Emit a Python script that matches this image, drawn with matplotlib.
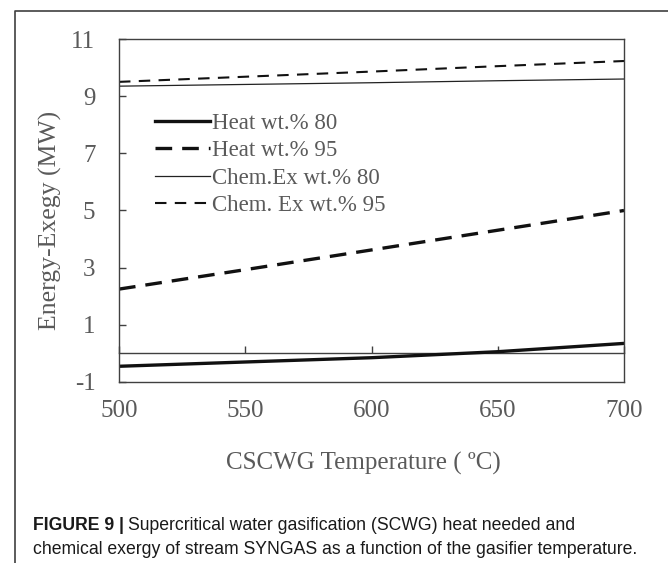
import matplotlib
matplotlib.use("Agg")
import matplotlib.pyplot as plt
from matplotlib.lines import Line2D

# temperatures (C) and the four series (MW)
temps = [500, 550, 600, 650, 700]
heat_80 = [-0.45, -0.30, -0.15, 0.06, 0.35]
heat_95 = [2.25, 2.93, 3.62, 4.31, 5.00]
chem_80 = [9.35, 9.41, 9.47, 9.54, 9.60]
chem_95 = [9.50, 9.68, 9.86, 10.05, 10.23]

x_ticks = [500, 550, 600, 650, 700]
y_ticks = [-1, 1, 3, 5, 7, 9, 11]

W, H = 668, 563
TXT = "#5a5a5a"
EDGE = "#404040"
SERIF = ["Liberation Serif", "DejaVu Serif"]
SANS = ["Liberation Sans", "DejaVu Sans"]

plt.rcParams["axes.unicode_minus"] = False

fig = plt.figure(figsize=(W / 100, H / 100), dpi=100)
ax = fig.add_axes([119 / W, 1 - 382 / H, (624 - 119) / W, (382 - 39) / H])

ax.plot(temps, heat_80, color="#111111", lw=2.4, label="Heat wt.% 80")
ax.plot(temps, heat_95, color="#111111", lw=2.4, ls=(0, (5, 3)), label="Heat wt.% 95")
ax.plot(temps, chem_80, color="#222222", lw=0.9, label="Chem.Ex wt.% 80")
ax.plot(temps, chem_95, color="#111111", lw=1.5, ls=(0, (5.5, 4)), label="Chem. Ex wt.% 95")

ax.set_xlim(500, 700)
ax.set_ylim(-1, 11)
ax.set_xticks(x_ticks)
ax.set_yticks(y_ticks)
for s in ax.spines.values():
    s.set_color(EDGE)
    s.set_linewidth(1.0)

ax.tick_params(axis="x", length=0, pad=13, labelsize=18, labelcolor=TXT)
ax.tick_params(axis="y", direction="in", length=5, width=1, color=EDGE,
               pad=17, labelsize=18, labelcolor=TXT)
for lab in ax.get_xticklabels() + ax.get_yticklabels():
    lab.set_family(SERIF)

# horizontal axis crossing at zero, ticks pointing up
zero_frac = (0 - (-1)) / (11 - (-1))
sec = ax.secondary_xaxis(zero_frac)
sec.set_xticks(x_ticks)
sec.tick_params(direction="in", length=5, width=1, color=EDGE, labelbottom=False)
sec.spines["bottom"].set_color(EDGE)
sec.spines["bottom"].set_linewidth(1.0)

leg = ax.legend(loc="upper left", bbox_to_anchor=(155 / W, 1 - 113 / H),
                bbox_transform=fig.transFigure, frameon=False, borderpad=0,
                borderaxespad=0, handlelength=2.4, handletextpad=0.1,
                labelspacing=0.28, prop={"family": SERIF, "size": 16.5})
for t in leg.get_texts():
    t.set_color(TXT)

fig.text(50 / W, 1 - 220 / H, "Energy-Exegy (MW)", rotation=90, ha="center",
         va="center", family=SERIF, size=18.5, color=TXT)
fig.text(363 / W, 1 - 470 / H, "CSCWG Temperature ( \u00baC)", ha="center",
         va="baseline", family=SERIF, size=18, color=TXT)

# caption
bold = fig.text(33 / W, 1 - 530 / H, "FIGURE 9 |", ha="left", va="baseline",
                family=SANS, weight="bold", size=12.7, color="#1a1a1a")
fig.canvas.draw()
bb = bold.get_window_extent()
fig.text((bb.x1 + 4) / W, 1 - 530 / H,
         "Supercritical water gasification (SCWG) heat needed and",
         ha="left", va="baseline", family=SANS, size=12.7, color="#1a1a1a")
fig.text(33 / W, 1 - 554 / H,
         "chemical exergy of stream SYNGAS as a function of the gasifier temperature.",
         ha="left", va="baseline", family=SANS, size=12.7, color="#1a1a1a")

# page frame (left and top rules)
fig.add_artist(Line2D([15 / W, 15 / W, 1], [0, 1 - 11 / H, 1 - 11 / H],
                      transform=fig.transFigure, color=EDGE, lw=1.2))

fig.savefig("out.png", dpi=100)
